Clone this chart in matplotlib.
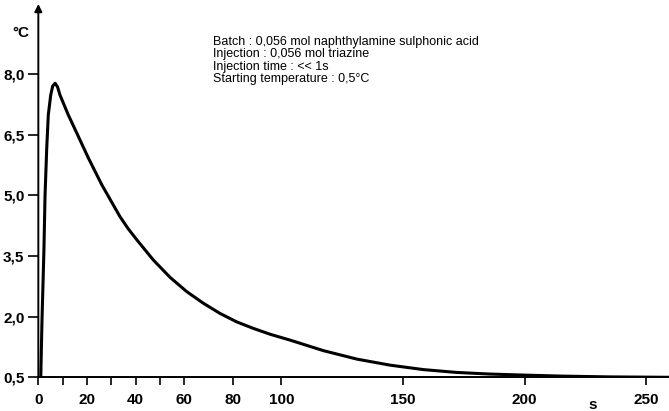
import matplotlib
matplotlib.use("Agg")
import matplotlib.pyplot as plt

# temperature trace after injection
time_s = [1.0, 1.5, 2.3, 2.76, 3.45, 4.1, 5.1, 5.9, 6.9, 7.9, 8.9, 12.3,
          16.5, 20.6, 26.1, 33.6, 37.0, 40.5, 47.3, 54.2, 61.0, 67.9, 74.7,
          81.6, 88.4, 95.3, 103.5, 117.2, 131.0, 144.7, 158.4, 172.1, 185.8,
          199.5, 215.0, 235.0, 260.0]
temp_c = [0.5, 1.9, 3.65, 5.0, 6.16, 6.99, 7.48, 7.70, 7.77, 7.68, 7.48, 6.99,
          6.45, 5.92, 5.26, 4.47, 4.17, 3.90, 3.40, 2.97, 2.62, 2.33, 2.08,
          1.87, 1.71, 1.565, 1.42, 1.16, 0.95, 0.80, 0.69, 0.62, 0.58,
          0.555, 0.53, 0.51, 0.50]

x_major = [0, 20, 40, 60, 80, 100, 150, 200, 250]
x_minor = [10, 30, 50]
y_ticks = [0.5, 2.0, 3.5, 5.0, 6.5, 8.0]
y_labels = ["0,5", "2,0", "3,5", "5,0", "6,5", "8,0"]

conditions = [
    "Batch : 0,056 mol naphthylamine sulphonic acid",
    "Injection : 0,056 mol triazine",
    "Injection time : << 1s",
    "Starting temperature : 0,5°C",
]

plt.rcParams["font.family"] = ["Liberation Sans", "DejaVu Sans"]

fig = plt.figure(figsize=(6.69, 4.11), dpi=100)
ax = fig.add_axes([0.0573, 0.082, 0.9427, 0.9083])

ax.plot(time_s, temp_c, color="black", lw=2.2, solid_capstyle="round",
        solid_joinstyle="round", zorder=3)

ax.set_xlim(0, 259.4)
ax.set_ylim(0.5, 9.73)

for side in ("top", "right", "left"):
    ax.spines[side].set_visible(False)
ax.spines["bottom"].set_linewidth(1.4)

# y axis drawn as an arrow
ax.annotate("", xy=(0, 1), xytext=(0, 0), xycoords="axes fraction",
            arrowprops=dict(arrowstyle="-|>", color="black", lw=1.4,
                            mutation_scale=11, shrinkA=0, shrinkB=0))

ax.set_xticks(x_major)
ax.set_xticks(x_minor, minor=True)
ax.set_xticklabels([str(v) for v in x_major], fontweight="bold", fontsize=11)
ax.set_yticks(y_ticks)
ax.set_yticklabels(y_labels, fontweight="bold", fontsize=11)
ax.tick_params(axis="x", which="both", direction="out", length=6, width=1.2, pad=5)
ax.tick_params(axis="y", direction="out", length=7, width=1.2, pad=3)

fig.text(21 / 669, 1 - 33 / 411, "°C", fontsize=11, fontweight="bold",
         ha="center", va="center")
fig.text(593 / 669, 1 - 405 / 411, "s", fontsize=11, fontweight="bold",
         ha="center", va="center")

fig.text(212.7 / 669, 1 - 36 / 411, "\n".join(conditions), fontsize=9,
         ha="left", va="top", linespacing=1.05)

fig.savefig("out.png", dpi=100)
